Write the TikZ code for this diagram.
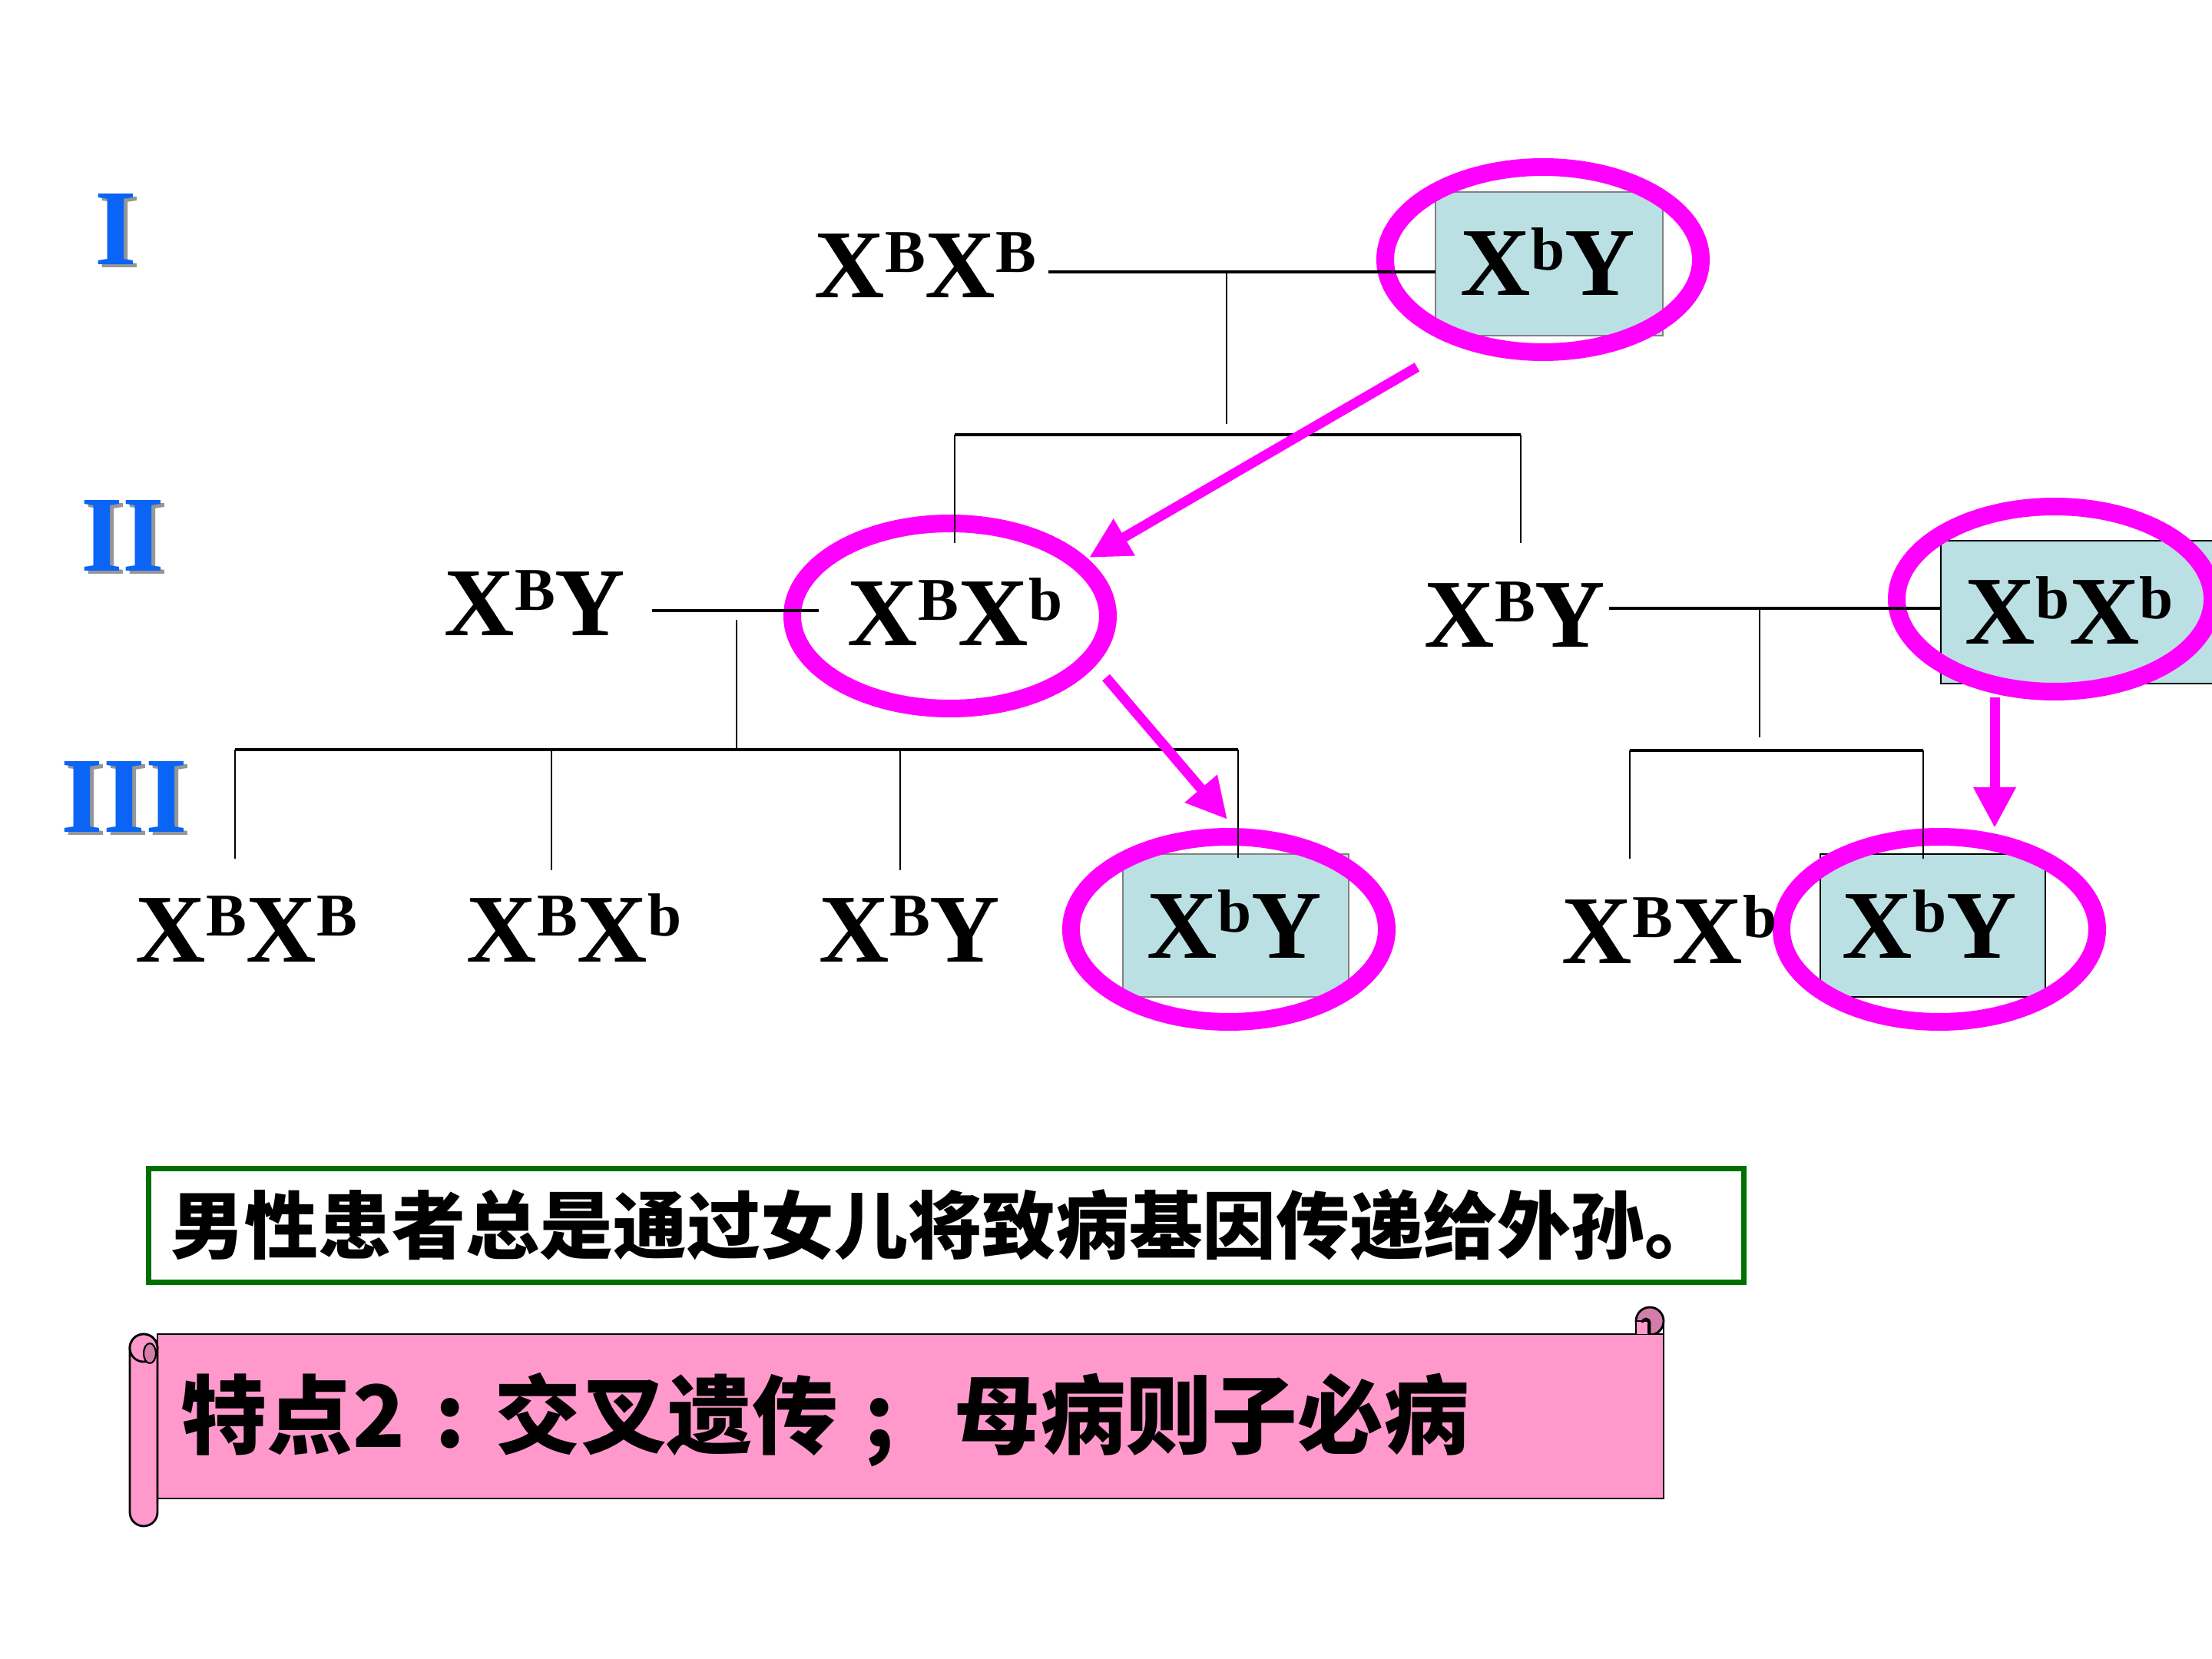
\documentclass[tikz,border=0pt]{standalone}
\usepackage{fontspec}
\setmainfont{Liberation Serif}
\newfontfamily\cjk{Noto Sans CJK SC}
\usetikzlibrary{shapes.geometric,arrows.meta}
\definecolor{ringc}{RGB}{255,0,255}
\definecolor{boxfill}{RGB}{187,224,228}
\definecolor{romanblue}{RGB}{10,100,245}
\definecolor{romanshadow}{RGB}{150,150,150}
\definecolor{greenb}{RGB}{0,112,0}
\definecolor{scrollpink}{RGB}{255,153,204}
\definecolor{scrolldark}{RGB}{210,125,170}
\newcommand{\gX}[1]{X\raisebox{9.6pt}{\fontsize{22.5}{22.5}\selectfont #1}}
\begin{document}
\begin{tikzpicture}[x=1cm,y=1cm,
  geno/.style={inner sep=0pt, anchor=base west, font=\fontsize{36}{36}\selectfont\bfseries},
  ring/.style={ellipse, draw=ringc, line width=0.23cm, minimum width=4.11cm, minimum height=2.41cm, inner sep=0pt},
  abox/.style={rectangle, draw=gray, fill=boxfill, line width=0.6pt, inner sep=0pt},
  bbox/.style={abox, draw=black},
  pline/.style={line width=1pt},
  vline/.style={line width=0.75pt},
  marrow/.style={draw=ringc, line width=0.13cm, -{Triangle[length=0.53cm,width=0.52cm]}},
  roman/.style={inner sep=0pt, anchor=base, font=\fontsize{40}{40}\selectfont\bfseries},
]
\useasboundingbox (0,0) rectangle (28.8,-21.6);
\clip (0,0) rectangle (28.8,-21.6);

% generation numerals
\node[roman, text=romanshadow] (rIs) at (1.56,-3.49) {I};
\node[roman, text=romanblue] (rI) at (1.51,-3.45) {I};
\node[roman, text=romanshadow] (rIIs) at (1.65,-7.48) {II};
\node[roman, text=romanblue] (rII) at (1.60,-7.44) {II};
\node[roman, text=romanshadow] (rIIIs) at (1.67,-10.88) {III};
\node[roman, text=romanblue] (rIII) at (1.62,-10.84) {III};

% affected boxes
\node[abox, minimum width=2.96cm, minimum height=1.87cm] (bI) at (20.17,-3.435) {};
\node[bbox, minimum width=3.63cm, minimum height=1.86cm] (bII) at (27.085,-7.97) {};
\node[abox, minimum width=2.94cm, minimum height=1.86cm] (bIIIa) at (16.09,-12.05) {};
\node[bbox, minimum width=2.93cm, minimum height=1.86cm] (bIIIb) at (25.165,-12.05) {};

% rings
\node[ring] (eI) at (20.09,-3.38) {};
\node[ring] (eII) at (12.37,-8.02) {};
\node[ring] (eIIr) at (26.75,-7.80) {};
\node[ring] (eIIIa) at (16.00,-12.10) {};
\node[ring] (eIIIb) at (25.25,-12.10) {};

% pedigree lines, generation I
\coordinate (m1a) at (13.65,-3.54);
\coordinate (m1b) at (18.69,-3.54);
\coordinate (d1a) at (15.97,-3.54);
\coordinate (d1b) at (15.97,-5.52);
\coordinate (s1a) at (12.43,-5.66);
\coordinate (s1b) at (19.80,-5.66);
\coordinate (c1a) at (12.43,-7.07);
\coordinate (c1b) at (19.80,-7.07);
\draw[pline] (m1a) -- (m1b);
\draw[vline] (d1a) -- (d1b);
\draw[pline] (s1a) -- (s1b);
\draw[vline] (s1a) -- (c1a);
\draw[vline] (s1b) -- (c1b);

% generation II left family
\coordinate (m2a) at (8.49,-7.95);
\coordinate (m2b) at (10.66,-7.95);
\coordinate (d2a) at (9.59,-8.07);
\coordinate (d2b) at (9.59,-9.76);
\coordinate (s2a) at (3.06,-9.76);
\coordinate (s2b) at (16.12,-9.76);
\coordinate (s2c) at (7.18,-9.76);
\coordinate (s2d) at (11.72,-9.76);
\coordinate (c2a) at (3.06,-11.18);
\coordinate (c2b) at (7.18,-11.33);
\coordinate (c2c) at (11.72,-11.33);
\coordinate (c2d) at (16.12,-11.17);
\draw[pline] (m2a) -- (m2b);
\draw[vline] (d2a) -- (d2b);
\draw[pline] (s2a) -- (s2b);
\draw[vline] (s2a) -- (c2a);
\draw[vline] (s2c) -- (c2b);
\draw[vline] (s2d) -- (c2c);
\draw[vline] (s2b) -- (c2d);

% generation II right family
\coordinate (m3a) at (20.95,-7.92);
\coordinate (m3b) at (25.27,-7.92);
\coordinate (d3a) at (22.91,-7.92);
\coordinate (d3b) at (22.91,-9.60);
\coordinate (s3a) at (21.22,-9.77);
\coordinate (s3b) at (25.04,-9.77);
\coordinate (c3a) at (21.22,-11.18);
\coordinate (c3b) at (25.04,-11.18);
\draw[pline] (m3a) -- (m3b);
\draw[vline] (d3a) -- (d3b);
\draw[pline] (s3a) -- (s3b);
\draw[vline] (s3a) -- (c3a);
\draw[vline] (s3b) -- (c3b);

% genotypes
\node[geno] (gIa) at (10.60,-3.88) {\gX{B}\gX{B}};
\node[geno] (gIb) at (19.01,-3.85) {\gX{b}Y};
\node[geno] (gIIa) at (5.78,-8.28) {\gX{B}Y};
\node[geno] (gIIb) at (11.03,-8.41) {\gX{B}\gX{b}};
\node[geno] (gIIc) at (18.54,-8.43) {\gX{B}Y};
\node[geno] (gIId) at (25.58,-8.39) {\gX{b}\gX{b}};
\node[geno] (gIIIa) at (1.76,-12.52) {\gX{B}\gX{B}};
\node[geno] (gIIIb) at (6.07,-12.52) {\gX{B}\gX{b}};
\node[geno] (gIIIc) at (10.66,-12.52) {\gX{B}Y};
\node[geno] (gIIId) at (14.93,-12.47) {\gX{b}Y};
\node[geno] (gIIIe) at (20.33,-12.54) {\gX{B}\gX{b}};
\node[geno] (gIIIf) at (23.98,-12.47) {\gX{b}Y};

% inheritance arrows
\coordinate (a1s) at (18.45,-4.78);
\coordinate (a1e) at (14.18,-7.26);
\coordinate (a2s) at (14.40,-8.82);
\coordinate (a2e) at (15.98,-10.67);
\coordinate (a3s) at (25.97,-9.08);
\coordinate (a3e) at (25.97,-10.78);
\draw[marrow] (a1s) -- (a1e);
\draw[marrow] (a2s) -- (a2e);
\draw[marrow] (a3s) -- (a3e);

% statement box
\node[draw=greenb, line width=2pt, minimum width=20.77cm, minimum height=1.48cm, inner sep=0pt] (tbox) at (12.32,-15.955) {};
\node[anchor=west, inner sep=0pt, font=\cjk\bfseries\fontsize{27.3}{27.3}\selectfont] (t1) at (2.22,-15.95) {男性患者总是通过女儿将致病基因传递给外孙。};

% scroll banner
\filldraw[fill=scrolldark, draw=black, line width=0.8pt] (21.48,-17.20) circle (0.18);
\filldraw[fill=scrollpink, draw=black, line width=0.8pt] (2.05,-17.37) -- (21.66,-17.37) -- (21.66,-19.51) -- (2.05,-19.51) -- cycle;
\filldraw[fill=scrollpink, draw=black, line width=0.8pt] (21.30,-17.37) -- (21.30,-17.20) -- (21.46,-17.20) -- (21.46,-17.37);
\draw[line width=0.8pt] (21.38,-17.22) arc (180:0:0.05) -- (21.48,-17.37);
\draw[line width=0.8pt] (21.66,-17.20) -- (21.66,-17.37);
\filldraw[fill=scrollpink, draw=black, line width=0.8pt, rounded corners=0.18cm] (1.69,-17.37) rectangle (2.05,-19.87);
\filldraw[fill=scrollpink, draw=black, line width=0.8pt] (1.87,-17.55) circle (0.18);
\filldraw[fill=scrolldark, draw=black, line width=0.6pt] (1.95,-17.62) ellipse (0.08 and 0.13);
\node[anchor=west, inner sep=0pt, font=\cjk\bfseries\fontsize{31.8}{31.8}\selectfont] (t2) at (2.35,-18.49) {特点2\makebox[1.05em][c]{:}交叉遗传\makebox[0.95em][c]{;}\hspace{0.4em}母病则子必病};
\end{tikzpicture}
\end{document}
